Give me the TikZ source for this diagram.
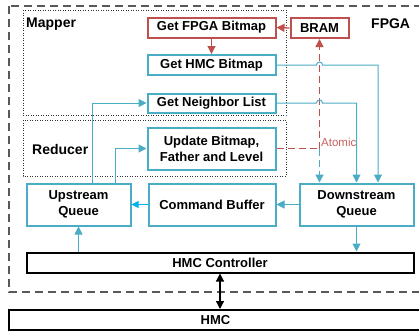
\documentclass[tikz,border=0pt]{standalone}
\usepackage{fontspec}
\setmainfont{Liberation Sans}
\usetikzlibrary{arrows.meta}
\definecolor{bblue}{RGB}{75,172,198}
\definecolor{cyanb}{RGB}{0,176,240}
\definecolor{rred}{RGB}{192,80,77}
\definecolor{dgray}{RGB}{89,89,89}
\begin{document}
\begin{tikzpicture}[x=1pt,y=-1pt,
  box/.style={draw=bblue,line width=2pt,fill=white,align=center,inner sep=0pt,
    font=\fontsize{13}{16}\selectfont\bfseries},
  rbox/.style={box,draw=rred},
  kbox/.style={box,draw=black},
  tip/.style={-{Triangle[length=8pt,width=8pt]}},
  conn/.style={draw=bblue,line width=1pt,tip},
  rconn/.style={draw=rred,line width=1.3pt,-{Triangle[length=8pt,width=8pt]}},
  rdash/.style={draw=rred,line width=1.3pt,dash pattern=on 7pt off 4pt},
  bdash/.style={draw=bblue,line width=1.3pt,dash pattern=on 7pt off 4pt,tip},
  group/.style={draw=black!80,line width=1pt,dash pattern=on 1pt off 1.5pt},
  lbl/.style={font=\fontsize{14}{16}\selectfont\bfseries,inner sep=0pt,anchor=west}
]
\useasboundingbox (0,0) rectangle (419,335);
% FPGA region
\draw[dgray,line width=1.3pt,dash pattern=on 8pt off 5pt] (9,6) rectangle (430,292);
\node[lbl] (fpgalbl) at (371,24) {FPGA};
% groups
\draw[group] (23,10) rectangle (286,115);
\draw[group] (23,120) rectangle (286,176);
\node[lbl] (mapper) at (26,24) {Mapper};
\node[lbl] (reducer) at (32,149) {Reducer};
% boxes
\node[rbox,minimum width=128,minimum height=20] (fpga) at (211.5,27.5) {Get FPGA Bitmap};
\node[rbox,minimum width=58,minimum height=20] (bram) at (319.5,28) {BRAM};
\node[box,minimum width=128,minimum height=20] (hmcbm) at (211.5,65) {Get HMC Bitmap};
\node[box,minimum width=128,minimum height=19] (nbr) at (211.5,103) {Get Neighbor List};
\node[box,minimum width=128,minimum height=42] (upd) at (211.5,148.5) {Update Bitmap,\\Father and Level};
\node[box,minimum width=104,minimum height=42] (up) at (78.5,204.5) {Upstream\\Queue};
\node[box,minimum width=127,minimum height=42] (cmd) at (212,204.5) {Command Buffer};
\node[box,minimum width=114,minimum height=42] (down) at (356.5,204.5) {Downstream\\Queue};
\node[kbox,minimum width=387,minimum height=20] (ctrl) at (220,262.5) {HMC Controller};
\node[kbox,minimum width=413,minimum height=20] (hmc) at (215.5,320) {HMC};
% helper coordinates
\coordinate (j) at (upd.east -| bram.south);
\coordinate (d3) at ([xshift=21.5pt]down.north);
\coordinate (h1) at (hmcbm.east -| j);
\coordinate (h2) at (nbr.east -| j);
% red connectors
\draw[rconn] (fpga.south) -- (hmcbm.north);
\draw[rconn] (bram.west) -- (fpga.east);
\draw[rdash] (upd.east) -- (j);
\draw[rdash,-{Triangle[length=8pt,width=8pt]}] (j) -- (bram.south);
\draw[bdash] (j) -- (j |- down.north);
\node[font=\fontsize{11.5}{13}\selectfont,text=rred!90,inner sep=0pt,anchor=west] (atomic) at (321,142) {Atomic};
% blue connectors with hops
\draw[conn] (hmcbm.east) -- ([xshift=-3pt]h1) arc[start angle=180,end angle=0,radius=3pt] -- (hmcbm.east -| d3) -- (d3);
\draw[conn] (nbr.east) -- ([xshift=-3pt]h2) arc[start angle=180,end angle=0,radius=3pt] -- (nbr.east -| down.north) -- (down.north);
\draw[conn] ([xshift=13.5pt]up.north) |- (nbr.west);
\draw[conn] ([xshift=36.5pt]up.north) |- (upd.west);
\draw[conn,draw=cyanb,-{Triangle[length=7pt,width=7pt]}] (cmd.west) -- (up.east);
\draw[conn] (down.west) -- (cmd.east);
\draw[conn] (down.south) -- (down.south |- ctrl.north);
\draw[conn] (up.south |- ctrl.north) -- (up.south);
\draw[line width=1.2pt,{Triangle[length=8pt,width=8pt]}-{Triangle[length=8pt,width=8pt]}] (ctrl.south) -- (ctrl.south |- hmc.north);
\end{tikzpicture}
\end{document}
